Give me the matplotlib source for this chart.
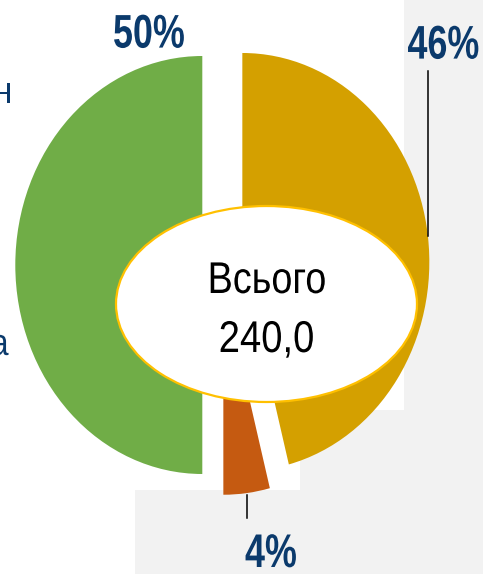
import matplotlib
matplotlib.use("Agg")
import matplotlib.pyplot as plt
from matplotlib.patches import Ellipse, Rectangle
from matplotlib.patheffects import AbstractPathEffect
from matplotlib.transforms import Affine2D

# --- data -------------------------------------------------------------------
shares = [46, 4, 50]                       # % of total, clockwise from top
slice_colors = ["#D4A000", "#C55A11", "#70AD47"]
explode = [0.115, 0.10, 0.10]
pct_labels = ["46%", "4%", "50%"]
total_title = "Всього"
total_value = "240,0"
cut_labels = ["н", "а"]                   # legend text clipped at left edge

NAVY = "#0B3A6C"
W, H = 483, 574


class Squeeze(AbstractPathEffect):
    """Draw text narrower (the slide uses a condensed face, none installed here).
    Scales glyph paths about the middle of each line, keeping the baseline."""

    def __init__(self, sx):
        super().__init__()
        self.sx = sx

    def draw_path(self, renderer, gc, tpath, affine, rgbFace=None):
        ext = tpath.get_extents()
        mid = (ext.x0 + ext.x1) / 2
        squeeze = Affine2D().translate(-mid, 0).scale(self.sx, 1).translate(mid, 0)
        renderer.draw_path(gc, tpath, squeeze + affine, rgbFace)


fig = plt.figure(figsize=(W / 100, H / 100), dpi=100)
fig.patch.set_facecolor("white")

# faint watermark-like background panels
bg = fig.add_axes([0, 0, 1, 1])
bg.set_xlim(0, W)
bg.set_ylim(H, 0)
bg.axis("off")
for x0, y0, w, h in [(404, 0, 79, 574), (300, 410, 183, 164), (135, 490, 170, 84)]:
    bg.add_patch(Rectangle((x0, y0), w, h, color="#F2F2F2", lw=0))

# pie, in its own axes; the slide stretches the pie a little vertically
cx, cy = 221, 265        # pie centre in pixels (y from top)
rx, ry = 187, 209        # horizontal / vertical radius in pixels
ax = fig.add_axes([0, 0, 1, 1])
ax.patch.set_alpha(0)
ax.pie(shares, colors=slice_colors, explode=explode, startangle=90,
       counterclock=False, radius=1, wedgeprops=dict(linewidth=0))
ax.set_aspect("auto")
ax.set_xlim(-cx / rx, (W - cx) / rx)
ax.set_ylim(-(H - cy) / ry, cy / ry)
ax.axis("off")

# overlay in pixel coordinates for the centre bubble, labels and leaders
ov = fig.add_axes([0, 0, 1, 1])
ov.patch.set_alpha(0)
ov.set_xlim(0, W)
ov.set_ylim(H, 0)
ov.axis("off")

ov.add_patch(Ellipse((266.5, 304), 301, 196, facecolor="white",
                     edgecolor="#FFC000", lw=1.6, zorder=3))
font = ["Liberation Sans", "DejaVu Sans"]
ov.text(267, 293, total_title, ha="center", va="baseline", fontsize=32,
        family=font, color="black", zorder=4, path_effects=[Squeeze(0.85)])
ov.text(266.5, 352, total_value, ha="center", va="baseline", fontsize=32,
        family=font, color="black", zorder=4, path_effects=[Squeeze(0.86)])

pct_pos = {"46%": (443.5, 58.6), "4%": (271, 567), "50%": (149, 47.6)}
for lab in pct_labels:
    x, y = pct_pos[lab]
    ov.text(x, y, lab, ha="center", va="baseline", fontsize=34,
            fontweight="bold", family=font, color=NAVY, zorder=4,
            path_effects=[Squeeze(0.76)])

# leader lines
ov.plot([428, 428], [71, 236], color="black", lw=1.1, zorder=4)
ov.plot([247, 247], [495, 518], color="black", lw=1.1, zorder=4)

# legend words cut off by the slide edge
for lab, (x, y) in zip(cut_labels, [(14, 103), (10, 355)]):
    ov.text(x, y, lab, ha="right", va="baseline", fontsize=27,
            family=font, color=NAVY, zorder=4, path_effects=[Squeeze(0.85)])

fig.savefig("out.png", dpi=100)
